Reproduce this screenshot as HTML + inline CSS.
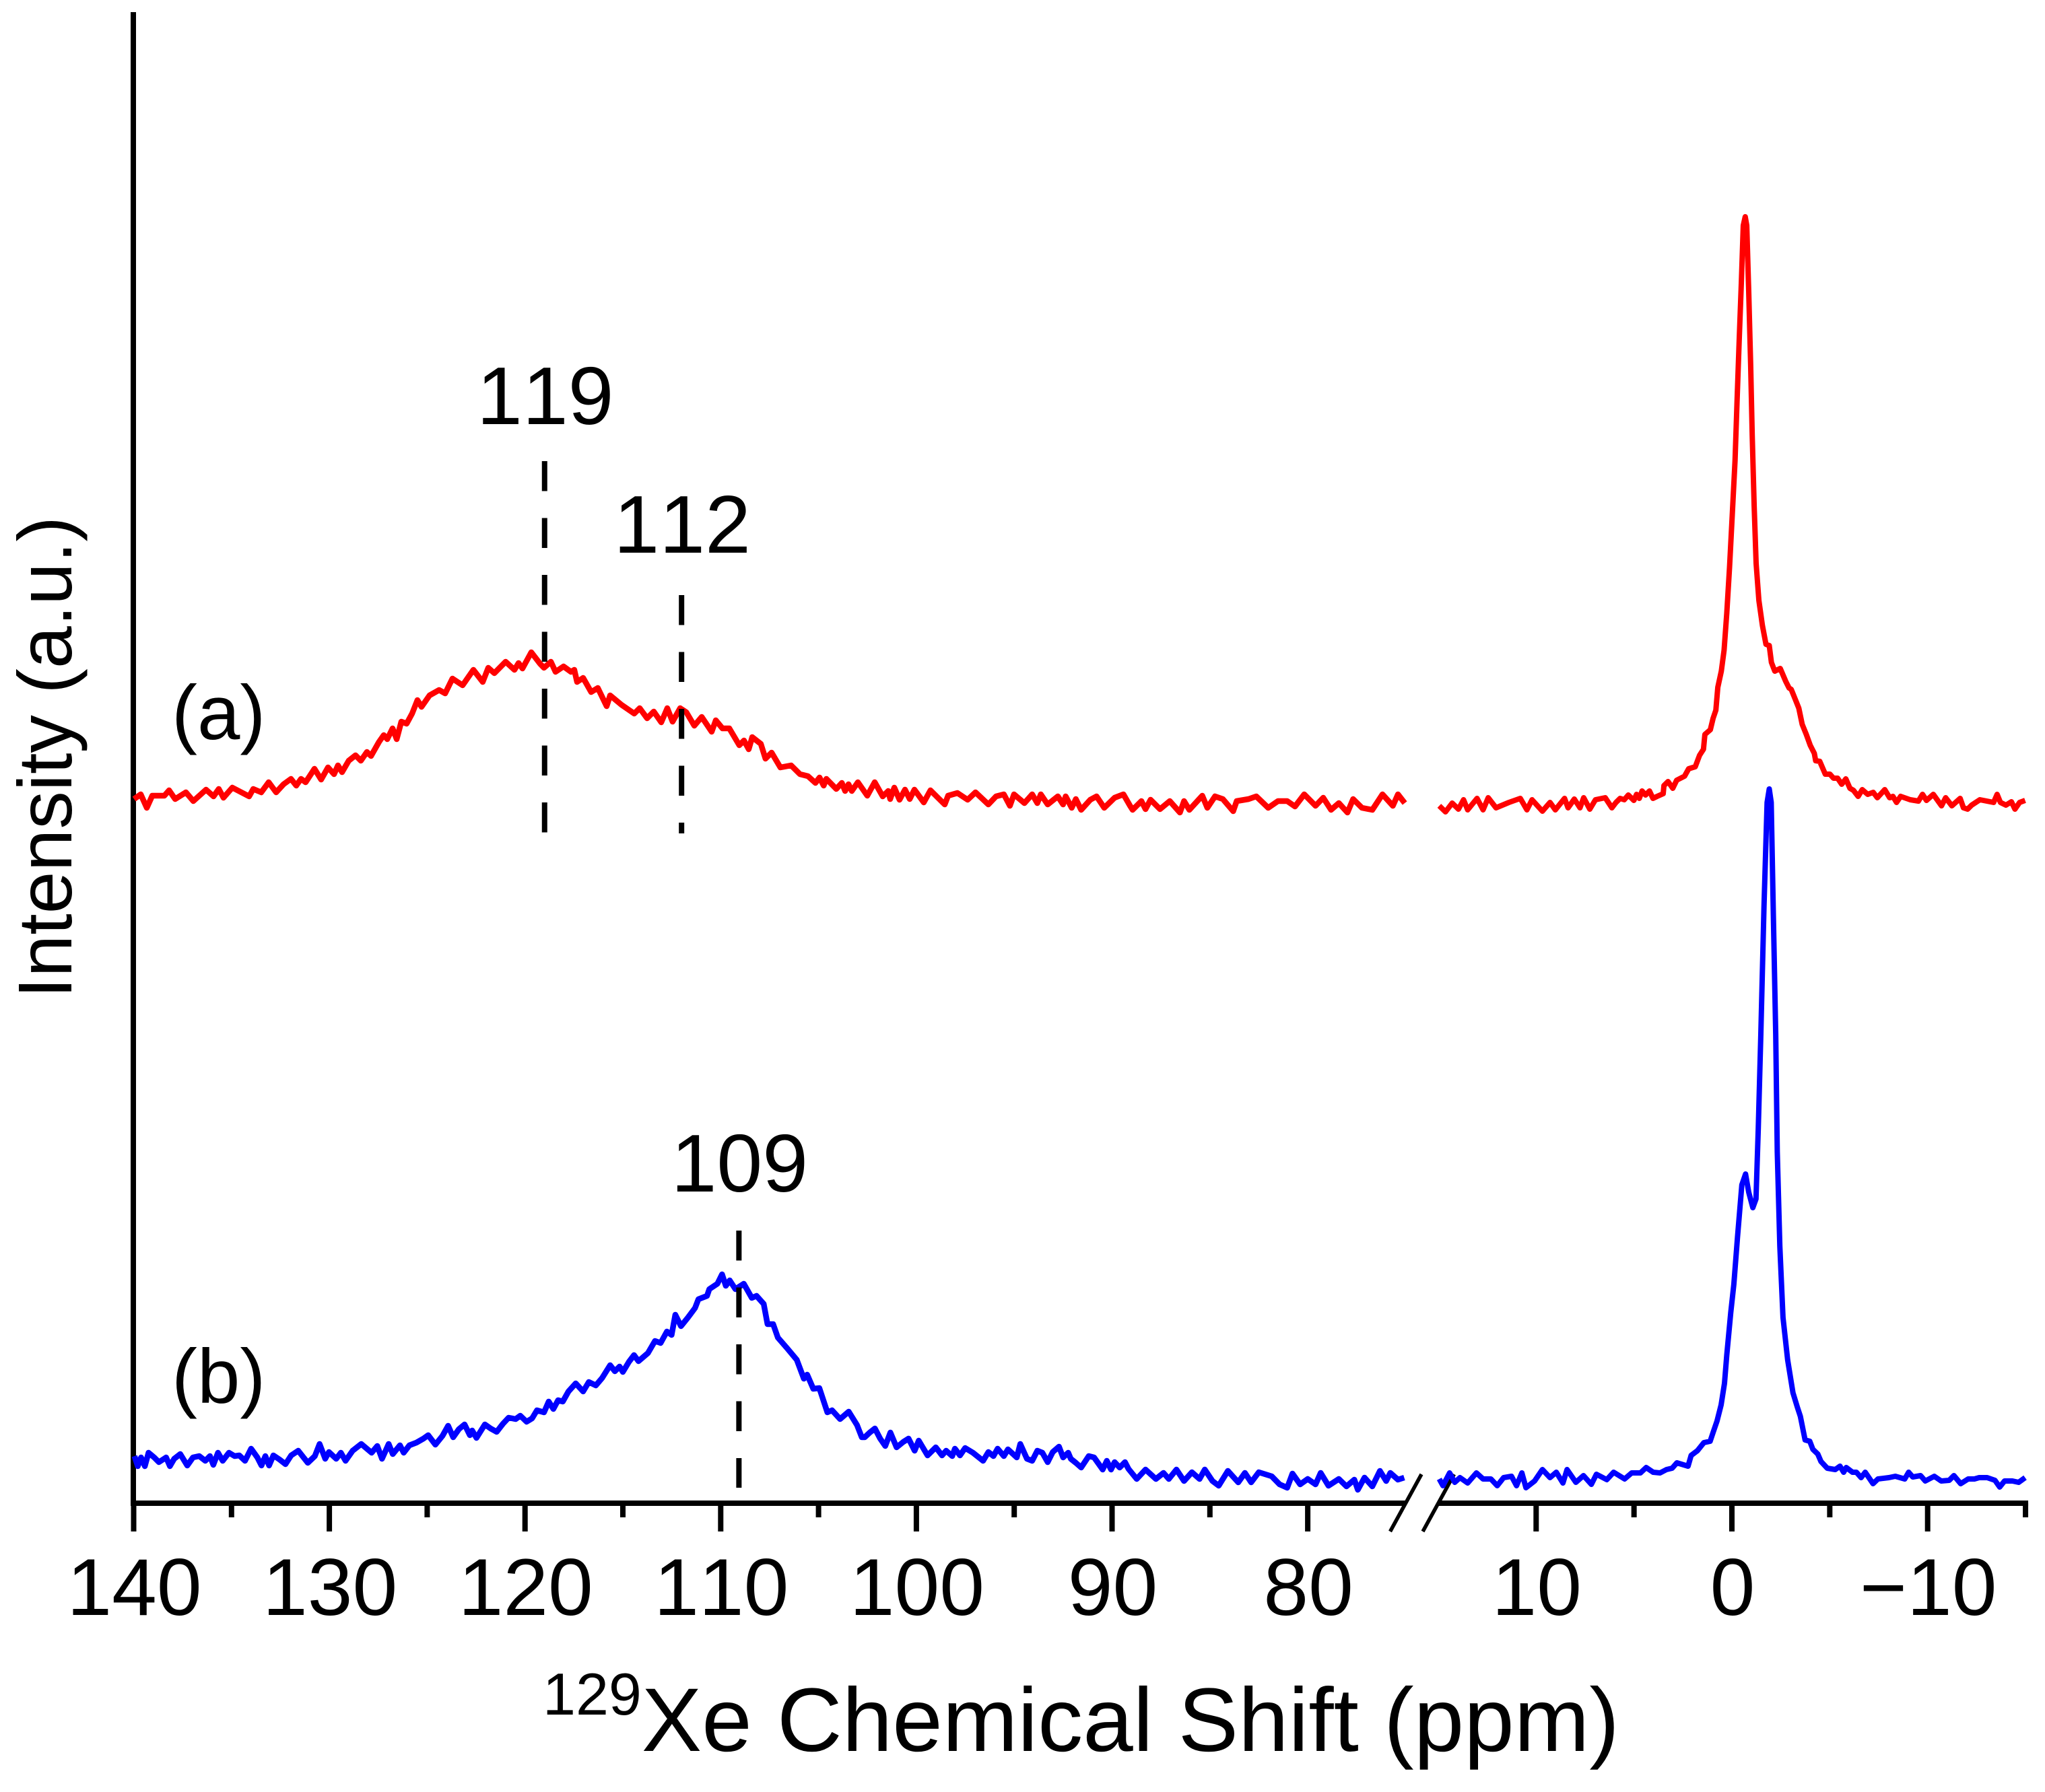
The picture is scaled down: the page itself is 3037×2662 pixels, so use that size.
<!DOCTYPE html>
<html>
<head>
<meta charset="utf-8">
<title>129Xe NMR spectra</title>
<style>
html,body{margin:0;padding:0;background:#fff;}
svg{display:block;}
text{font-family:"Liberation Sans",Arial,sans-serif;fill:#000;font-kerning:none;}
</style>
</head>
<body>
<svg id="chart" xmlns="http://www.w3.org/2000/svg" width="3037" height="2662" viewBox="0 0 3037 2662">
<rect x="0" y="0" width="3037" height="2662" fill="#fff"/>
<g id="axes"></g>
<g id="series"></g>
<g id="annotations"></g>
<text transform="translate(106,1125) rotate(-90)" text-anchor="middle" font-size="113">Intensity (a.u.)</text>
<text x="806" y="2601" font-size="134"><tspan font-size="88" dy="-54">129</tspan><tspan dy="54">Xe Chemical Shift (ppm)</tspan></text>
<text x="255" y="1098" font-size="114">(a)</text>
<text x="255" y="2084" font-size="114">(b)</text>
</svg>
<script>
// ---- chart data (chemical shift in ppm, intensity in arbitrary units) ----
const shiftLeftA = [139.98,139.64,139.33,139.05,138.43,138.19,137.88,137.33,136.95,136.30,135.92,135.65,135.41,134.96,134.10,133.89,133.48,133.10,132.72,132.34,131.96,131.69,131.45,131.21,130.76,130.42,130.07,129.76,129.56,129.35,129.01,128.66,128.39,128.08,127.87,127.46,127.22,127.04,126.77,126.56,126.32,126.05,125.77,125.50,125.29,124.88,124.39,124.08,123.71,123.19,122.64,122.16,121.88,121.57,120.99,120.54,120.33,120.13,119.68,119.23,119.03,118.68,118.44,118.03,117.65,117.48,117.34,117.03,116.62,116.28,115.83,115.65,115.07,114.42,114.14,113.76,113.42,113.04,112.73,112.46,112.07,111.76,111.35,110.97,110.46,110.25,109.91,109.56,109.05,108.81,108.57,108.39,107.95,107.71,107.40,106.95,106.40,105.95,105.54,105.16,104.95,104.74,104.60,104.09,103.81,103.64,103.47,103.30,102.99,102.51,102.13,101.72,101.44,101.34,101.13,100.86,100.58,100.34,100.10,99.62,99.28,98.55,98.38,97.90,97.38,96.98,96.32,95.93,95.53,95.22,95.01,94.48,94.08,93.82,93.64,93.29,92.77,92.50,92.37,92.06,91.85,91.58,91.11,90.79,90.40,89.87,89.42,89.08,88.95,88.50,88.29,88.03,87.55,87.05,86.53,86.32,86.05,85.39,85.13,84.74,84.34,83.81,83.63,83.02,82.63,82.02,81.52,81.05,80.65,80.18,79.60,79.21,78.81,78.41,77.97,77.68,77.23,76.70,76.18,75.65,75.39,75.04];
const intensityLeftA = [1046,1053,1033,1051,1051,1059,1046,1056,1043,1060,1050,1061,1048,1063,1050,1061,1056,1071,1056,1068,1076,1066,1076,1071,1091,1075,1093,1083,1096,1086,1103,1111,1103,1116,1110,1131,1141,1135,1151,1135,1161,1158,1173,1193,1183,1200,1208,1203,1225,1215,1238,1220,1241,1233,1250,1238,1248,1240,1264,1247,1241,1250,1235,1243,1235,1238,1220,1226,1205,1211,1184,1200,1186,1173,1181,1166,1176,1160,1181,1161,1181,1175,1155,1168,1146,1163,1151,1151,1126,1133,1120,1138,1128,1106,1115,1093,1096,1083,1080,1070,1078,1066,1076,1061,1070,1058,1068,1058,1071,1051,1071,1050,1058,1046,1063,1045,1060,1046,1060,1041,1059,1038,1051,1055,1045,1056,1038,1050,1053,1036,1053,1040,1053,1040,1053,1038,1050,1038,1050,1033,1046,1030,1045,1050,1033,1048,1053,1036,1030,1043,1031,1045,1031,1043,1026,1043,1030,1051,1033,1050,1046,1028,1043,1046,1050,1033,1043,1043,1035,1053,1036,1048,1030,1040,1026,1046,1033,1030,1053,1036,1053,1040];
const shiftRightA = [14.95,14.63,14.29,13.97,13.71,13.50,13.02,12.71,12.45,12.05,11.39,10.81,10.47,10.21,9.68,9.29,9.02,8.55,8.37,8.05,7.76,7.57,7.26,6.97,6.47,6.13,5.92,5.71,5.50,5.29,5.01,4.87,4.73,4.59,4.41,4.21,4.03,3.82,3.51,3.47,3.26,3.02,2.82,2.42,2.21,1.87,1.65,1.45,1.38,1.10,0.96,0.82,0.72,0.54,0.40,0.26,0.12,-0.02,-0.16,-0.26,-0.37,-0.48,-0.58,-0.68,-0.76,-0.86,-0.96,-1.04,-1.14,-1.24,-1.38,-1.56,-1.74,-1.91,-2.02,-2.19,-2.47,-2.75,-2.92,-3.03,-3.24,-3.42,-3.59,-3.80,-4.00,-4.21,-4.28,-4.49,-4.77,-5.01,-5.19,-5.40,-5.61,-5.82,-6.03,-6.21,-6.45,-6.66,-6.94,-7.22,-7.43,-7.81,-8.06,-8.23,-8.41,-8.62,-9.11,-9.53,-9.74,-9.94,-10.29,-10.71,-10.92,-11.24,-11.66,-11.83,-12.04,-12.25,-12.67,-13.37,-13.55,-13.72,-14.00,-14.28,-14.46,-14.70,-14.98];
const intensityRightA = [1036,1027,1040,1031,1045,1030,1047,1030,1048,1033,1041,1047,1030,1045,1028,1041,1030,1047,1033,1046,1033,1048,1031,1045,1048,1033,1041,1047,1045,1052,1044,1053,1047,1058,1052,1058,1047,1050,1054,1066,1072,1062,1074,1080,1091,1094,1111,1120,1142,1149,1166,1178,1212,1236,1267,1322,1390,1469,1549,1635,1726,1812,1898,1911,1898,1800,1690,1586,1481,1396,1341,1304,1276,1274,1249,1236,1240,1221,1211,1209,1194,1181,1157,1142,1126,1114,1103,1102,1083,1083,1077,1077,1068,1076,1062,1059,1050,1060,1053,1056,1048,1060,1048,1050,1041,1050,1045,1043,1053,1044,1053,1036,1048,1036,1047,1033,1031,1037,1045,1041,1053,1041,1037,1042,1031,1041,1044];

const shiftLeftB = [139.96,139.79,139.62,139.43,139.24,138.95,138.71,138.34,138.15,137.93,137.62,137.26,136.97,136.65,136.34,136.10,135.93,135.69,135.45,135.13,134.84,134.60,134.31,134.00,133.68,133.47,133.27,133.08,132.86,132.55,132.24,131.95,131.59,131.10,130.74,130.50,130.21,130.02,129.65,129.41,129.17,128.81,128.37,127.84,127.55,127.31,126.97,126.76,126.39,126.20,125.91,125.55,125.19,124.95,124.58,124.22,123.93,123.67,123.38,123.09,122.82,122.70,122.48,122.05,121.76,121.45,121.13,120.84,120.48,120.24,119.92,119.64,119.39,119.03,118.79,118.55,118.31,118.07,117.78,117.41,117.03,116.74,116.38,116.06,115.65,115.41,115.17,115.00,114.69,114.43,114.20,113.72,113.36,113.07,112.75,112.51,112.32,112.03,111.67,111.31,111.14,110.70,110.58,110.17,109.93,109.74,109.54,109.25,108.82,108.41,108.17,107.80,107.61,107.32,107.08,106.60,106.11,105.75,105.58,105.27,104.96,104.55,104.31,103.90,103.46,103.03,102.79,102.64,102.38,102.12,101.85,101.59,101.33,101.01,100.67,100.40,100.09,99.88,99.43,99.01,98.69,98.48,98.17,98.03,97.77,97.51,97.11,96.59,96.32,96.06,95.85,95.53,95.32,94.87,94.69,94.35,94.08,93.82,93.56,93.29,93.03,92.71,92.50,92.24,92.11,91.85,91.58,91.19,90.92,90.48,90.27,90.05,89.87,89.61,89.34,89.16,88.74,88.29,87.76,87.37,87.10,86.71,86.32,85.92,85.53,85.26,84.87,84.55,84.08,83.55,83.21,82.89,82.50,81.84,81.44,81.05,80.78,80.39,80.00,79.60,79.34,78.94,78.41,78.02,77.62,77.44,77.10,76.70,76.31,75.99,75.78,75.39,75.07];
const intensityLeftB = [70,55,68,55,75,68,61,68,55,66,73,56,68,70,63,70,57,75,63,75,70,71,63,81,68,56,70,56,71,65,58,71,78,60,70,88,66,76,66,75,63,78,88,75,85,66,88,73,86,75,86,90,96,101,87,100,115,98,110,117,101,108,97,117,111,106,118,127,125,130,121,126,138,135,151,140,153,151,166,178,166,180,175,186,205,196,203,195,210,220,211,223,241,238,255,250,280,263,276,290,303,308,318,326,340,323,331,318,326,305,308,296,266,266,246,230,213,185,191,170,171,135,138,125,136,116,98,98,105,111,96,85,105,83,91,96,78,93,71,83,71,78,70,81,71,82,75,63,76,70,81,70,80,68,88,66,63,78,75,61,76,84,68,75,66,60,53,70,68,50,63,50,61,53,61,51,36,50,36,45,36,50,33,46,36,50,33,26,48,31,45,31,46,40,28,23,44,28,36,28,45,26,36,25,35,20,38,25,48,33,45,35,38];
const shiftRightB = [14.95,14.76,14.42,14.16,13.89,13.50,13.05,12.71,12.31,11.99,11.66,11.26,11.00,10.73,10.52,10.08,9.68,9.29,8.97,8.63,8.42,7.97,7.58,7.18,6.92,6.39,6.04,5.48,5.12,4.67,4.38,4.02,3.67,3.34,3.05,2.81,2.24,2.08,1.76,1.43,1.11,0.95,0.76,0.55,0.38,0.26,0.06,-0.10,-0.29,-0.51,-0.70,-0.86,-1.07,-1.23,-1.35,-1.48,-1.64,-1.80,-1.91,-2.01,-2.12,-2.24,-2.32,-2.45,-2.61,-2.85,-3.12,-3.34,-3.50,-3.74,-3.98,-4.14,-4.39,-4.55,-4.87,-5.28,-5.52,-5.71,-5.84,-6.16,-6.36,-6.60,-6.81,-7.21,-7.46,-8.02,-8.35,-8.83,-9.03,-9.24,-9.64,-9.88,-10.34,-10.69,-11.10,-11.34,-11.69,-12.07,-12.39,-12.63,-13.04,-13.44,-13.68,-13.93,-14.33,-14.65,-14.98];
const intensityRightB = [36,26,45,31,38,30,45,36,36,26,38,40,26,45,23,33,50,38,46,30,50,31,41,28,43,35,46,36,45,45,53,46,45,50,52,60,55,71,78,90,92,106,122,146,178,220,283,325,396,473,489,462,439,452,557,697,887,1041,1061,1041,873,697,522,382,276,213,164,143,129,94,92,80,73,62,52,50,55,46,53,46,46,38,46,29,36,38,40,36,46,39,41,33,40,33,34,41,29,36,36,38,38,34,24,33,33,31,38];

const leftMajorTicks = [140,130,120,110,100,90,80];
const leftMinorTicks = [135,125,115,105,95,85];
const rightMajorTicks = [10,0,-10];
const rightMinorTicks = [5,-5,-15];
const peakLabels = ["119","112","109"];
const peakShifts = [119,112,109];
const peakDashTop = [1548,1349,405];
const peakDashBottom = [996,995,23];
const peakLabelIntensity = [1603,1412,463];

// ---- axis functions ----
const PX_PER_PPM = 29.06;
const X0_LEFT = 198.5;   // position of 140 ppm
const X0_RIGHT = 2572;   // position of 0 ppm
const Y_ZERO = 2233;
function xLeft(ppm){ return X0_LEFT + (140 - ppm) * PX_PER_PPM; }
function xRight(ppm){ return X0_RIGHT - ppm * 29.07; }
function yAt(v){ return Y_ZERO - v; }

const NS = 'http://www.w3.org/2000/svg';
function make(tag, parent, attrs){
  const el = document.createElementNS(NS, tag);
  for (const k in attrs) el.setAttribute(k, attrs[k]);
  parent.appendChild(el);
  return el;
}
const axes = document.getElementById('axes');
const seriesG = document.getElementById('series');
const annG = document.getElementById('annotations');

// axis lines
const yAxis = make('line', axes, {x1:198, y1:18, x2:198, y2:2237, stroke:'#000', 'stroke-width':8});


const xAxisL = make('line', axes, {x1:194, y1:2233, x2:xLeft(75), y2:2233, stroke:'#000', 'stroke-width':8});


const xAxisR = make('line', axes, {x1:xRight(15), y1:2233, x2:xRight(-15)+4, y2:2233, stroke:'#000', 'stroke-width':8});



// ticks
function addTick(x, major, label){
  const t = make('line', axes, {x1:x, y1:2233, x2:x, y2: major ? 2275 : 2254, stroke:'#000', 'stroke-width':8});
  
  
  if (label !== null){
    const l = make('text', axes, {x:x + 1, y:2399, 'text-anchor':'middle', 'font-size':120});
    
    
    l.textContent = String(label).replace('-', '\u2212');
  }
}
leftMajorTicks.forEach(v => addTick(xLeft(v), true, v));
leftMinorTicks.forEach(v => addTick(xLeft(v), false, null));
rightMajorTicks.forEach(v => addTick(xRight(v), true, v));
rightMinorTicks.forEach(v => addTick(xRight(v), false, null));

// axis break marks
const brk1 = make('line', axes, {x1:2111, y1:2190, x2:2064.5, y2:2275, stroke:'#000', 'stroke-width':5.5});


const brk2 = make('line', axes, {x1:2159.5, y1:2190, x2:2113, y2:2275, stroke:'#000', 'stroke-width':5.5});



// spectra
function drawSpectrum(shifts, vals, xFn, color, name, width){
  const pts = shifts.map((s, i) => xFn(s).toFixed(1) + ',' + yAt(vals[i]).toFixed(1)).join(' ');
  const p = make('polyline', seriesG, {points:pts, fill:'none', stroke:color, 'stroke-width':width, 'stroke-linejoin':'round', 'stroke-linecap':'butt'});
  
  
}
drawSpectrum(shiftLeftA, intensityLeftA, xLeft, '#ff0000', 'spectrum-a-left', 8.5);
drawSpectrum(shiftRightA, intensityRightA, xRight, '#ff0000', 'spectrum-a-right', 8);
drawSpectrum(shiftLeftB, intensityLeftB, xLeft, '#0000ff', 'spectrum-b-left', 8.5);
drawSpectrum(shiftRightB, intensityRightB, xRight, '#0000ff', 'spectrum-b-right', 8);

// peak annotations
peakShifts.forEach((s, i) => {
  const x = xLeft(s) - (s === 109 ? 2 : 0);
  const d = make('line', annG, {x1:x, y1:yAt(peakDashTop[i]), x2:x, y2:yAt(peakDashBottom[i]), stroke:'#000', 'stroke-width':8, 'stroke-dasharray':'44.5 40'});
  
  
  const t = make('text', annG, {x:x + 1, y:yAt(peakLabelIntensity[i]), 'text-anchor':'middle', 'font-size':122});
  
  
  t.textContent = peakLabels[i];
});
</script>
</body>
</html>
